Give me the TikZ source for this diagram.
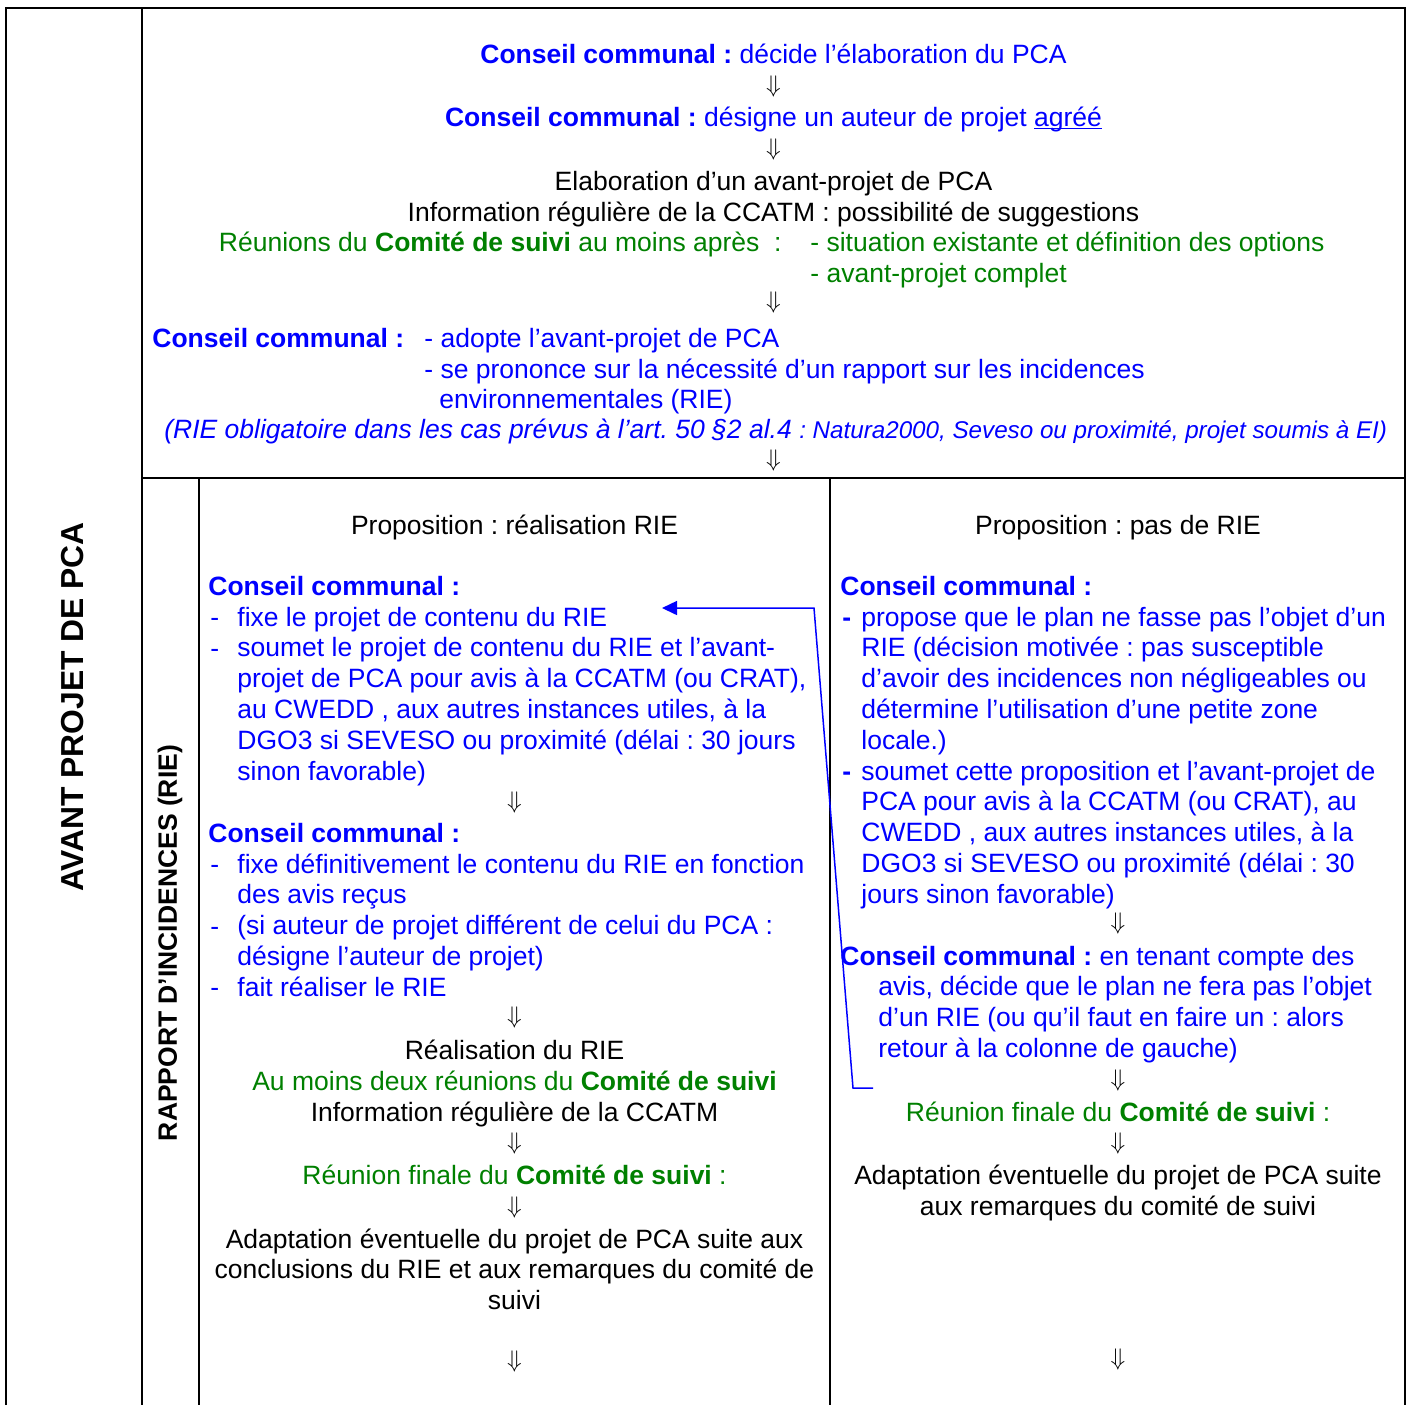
\documentclass[tikz,border=0pt]{standalone}
\usepackage{fontspec}
\setmainfont{Liberation Sans}
\usetikzlibrary{arrows.meta}
\frenchspacing

\definecolor{conseil}{RGB}{0,0,255}
\definecolor{suivi}{RGB}{0,128,0}
\newcommand{\conseil}{\textbf{Conseil communal :}}
\newcommand{\comite}{\textbf{Comité de suivi}}
\newcommand{\fl}{$\Downarrow$}
\newcommand{\souligne}[1]{\setbox0\hbox{#1}\rlap{\rule[-1.6pt]{\wd0}{0.6pt}}\box0}

\tikzset{
  ln/.style={anchor=base west, inner sep=0pt, font=\fontsize{13.25}{15.4}\selectfont},
  lc/.style={ln, anchor=base},
  fleche/.style={inner sep=0pt, font=\fontsize{12}{14}\selectfont},
  cadre/.style={line width=1pt},
}

\begin{document}
\begin{tikzpicture}[x=0.5pt, y=-0.5pt]
  \useasboundingbox (0,0) rectangle (1409,1405);
  \draw[cadre] (6,1405) -- (6,8) -- (1405,8) -- (1405,1405);
  \draw[cadre] (142,8) -- (142,1405);
  \draw[cadre] (142,478) -- (1405,478);
  \draw[cadre] (199,478) -- (199,1405);
  \draw[cadre] (830,478) -- (830,1405);

  \node[rotate=90, inner sep=0pt, font=\fontsize{15.9}{18}\selectfont\bfseries] (avant) at (73,707) {AVANT PROJET DE PCA};
  \node[rotate=90, inner sep=0pt, font=\fontsize{13.25}{15}\selectfont\bfseries] (rapport) at (170,943) {RAPPORT D’INCIDENCES (RIE)};

  % avant-projet
  \node[lc, conseil] (decide) at (773.5,63) {\conseil{} décide l’élaboration du PCA};
  \node[fleche] (f1) at (773.5,86) {\fl};
  \node[lc, conseil] (designe) at (773.5,126) {\conseil{} désigne un auteur de projet \souligne{agréé}};
  \node[fleche] (f2) at (773.5,149) {\fl};
  \node[lc] (elab) at (773.5,190) {Elaboration d’un avant-projet de PCA};
  \node[lc] (info) at (773.5,221) {Information régulière de la CCATM : possibilité de suggestions};
  \node[ln, anchor=base east, suivi] (reunions) at (782,251) {Réunions du \comite{} au moins après~~:};
  \node[ln, suivi] (options) at (810,251) {- situation existante et définition des options};
  \node[ln, suivi] (complet) at (810,282) {- avant-projet complet};
  \node[fleche] (f3) at (773.5,302) {\fl};
  \node[ln, conseil] (cc) at (152,347) {\conseil};
  \node[ln, conseil] (adopte) at (424,347) {- adopte l’avant-projet de PCA};
  \node[ln, conseil] (prononce) at (424,378) {- se prononce sur la nécessité d’un rapport sur les incidences};
  \node[ln, conseil] (envir) at (439,408) {environnementales (RIE)};
  \node[ln, conseil] (oblig) at (164,438) {\itshape (RIE obligatoire dans les cas prévus à l’art. 50 §2 al.4 {\fontsize{12.1}{14}\selectfont : Natura2000, Seveso ou proximité, projet soumis à EI)}};
  \node[fleche] (f4) at (773.5,460) {\fl};

  % colonne de gauche : RIE
  \node[lc] (propRIE) at (514.5,534) {Proposition : réalisation RIE};
  \node[ln, conseil] (cg1) at (208,595) {\conseil};
  \foreach \y/\n in {626/a, 657/b, 873/c, 935/d, 996/e}
    \node[ln, conseil] (tg\n) at (210,\y) {-};
  \foreach \txt [count=\i from 0] in {{fixe le projet de contenu du RIE},
    {soumet le projet de contenu du RIE et l’avant-},
    {projet de PCA pour avis à la CCATM (ou CRAT),},
    {au CWEDD , aux autres instances utiles, à la},
    {DGO3 si SEVESO ou proximité (délai : 30 jours},
    {sinon favorable)}}
    \node[ln, conseil] (g1-\i) at (237,{626+30.8*\i}) {\txt};
  \node[fleche] (f5) at (514.5,802) {\fl};
  \node[ln, conseil] (cg2) at (208,842) {\conseil};
  \foreach \txt [count=\i from 0] in {{fixe définitivement le contenu du RIE en fonction},
    {des avis reçus},
    {(si auteur de projet différent de celui du PCA :},
    {désigne l’auteur de projet)},
    {fait réaliser le RIE}}
    \node[ln, conseil] (g2-\i) at (237,{873+30.8*\i}) {\txt};
  \node[fleche] (f6) at (514.5,1017) {\fl};
  \node[lc] (real) at (514.5,1059) {Réalisation du RIE};
  \node[lc, suivi] (deux) at (514.5,1090) {Au moins deux réunions du \comite};
  \node[lc] (infog) at (514.5,1121) {Information régulière de la CCATM};
  \node[fleche] (f7) at (514.5,1143) {\fl};
  \node[lc, suivi] (finaleg) at (514.5,1184) {Réunion finale du \comite{} :};
  \node[fleche] (f8) at (514.5,1207) {\fl};
  \foreach \txt [count=\i from 0] in {{Adaptation éventuelle du projet de PCA suite aux},
    {conclusions du RIE et aux remarques du comité de},
    {suivi}}
    \node[lc] (adg-\i) at (514.5,{1248+30.5*\i}) {\txt};
  \node[fleche] (f9) at (514.5,1361) {\fl};

  % colonne de droite : pas de RIE
  \node[lc] (propPas) at (1118,534) {Proposition : pas de RIE};
  \node[ln, conseil] (cd1) at (840,595) {\conseil};
  \foreach \y/\n in {626/a, 780/b}
    \node[ln, conseil, font=\fontsize{13.25}{15.4}\selectfont\bfseries] (td\n) at (842,\y) {-};
  \foreach \txt [count=\i from 0] in {{propose que le plan ne fasse pas l’objet d’un},
    {RIE (décision motivée : pas susceptible},
    {d’avoir des incidences non négligeables ou},
    {détermine l’utilisation d’une petite zone},
    {locale.)},
    {soumet cette proposition et l’avant-projet de},
    {PCA pour avis à la CCATM (ou CRAT), au},
    {CWEDD , aux autres instances utiles, à la},
    {DGO3 si SEVESO ou proximité (délai : 30},
    {jours sinon favorable)}}
    \node[ln, conseil] (d1-\i) at (861,{626+30.8*\i}) {\txt};
  \node[fleche] (f10) at (1118,923) {\fl};
  \node[ln, conseil] (cd2) at (840,965) {\conseil{} en tenant compte des};
  \foreach \txt [count=\i from 1] in {{avis, décide que le plan ne fera pas l’objet},
    {d’un RIE (ou qu’il faut en faire un : alors},
    {retour à la colonne de gauche)}}
    \node[ln, conseil] (d2-\i) at (878,{965+30.9*\i}) {\txt};
  \node[fleche] (f11) at (1118,1080) {\fl};
  \node[lc, suivi] (finaled) at (1118,1121) {Réunion finale du \comite{} :};
  \node[fleche] (f12) at (1118,1143) {\fl};
  \node[lc] (add-0) at (1118,1184) {Adaptation éventuelle du projet de PCA suite};
  \node[lc] (add-1) at (1118,1215) {aux remarques du comité de suivi};
  \node[fleche] (f13) at (1118,1359) {\fl};

  % retour vers la colonne de gauche
  \coordinate (retour) at (873,1088);
  \coordinate (coude1) at (853,1088);
  \coordinate (coude2) at (814,608);
  \coordinate (cible) at (662,608);
  \draw[conseil, line width=0.75pt, -{Triangle[length=7.5pt, width=7pt]}]
    (retour) -- (coude1) -- (coude2) -- (cible);
\end{tikzpicture}
\end{document}
